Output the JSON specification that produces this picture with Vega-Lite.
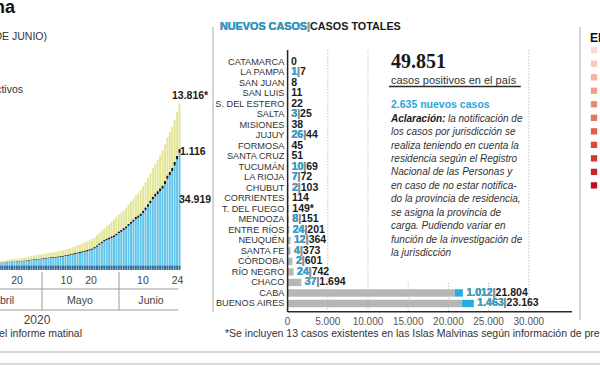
{
"$schema":"https://vega.github.io/schema/vega-lite/v6.json",
"width":600,"height":365,"padding":0,"autosize":{"type":"none"},"background":"white",
"config":{"view":{"stroke":null},"font":"Liberation Sans"},
"datasets":{
"evol":[
{"fecha":"2020-04-11","activos":1612,"fallecidos":90,"recuperados":440},
{"fecha":"2020-04-12","activos":1596,"fallecidos":97,"recuperados":515},
{"fecha":"2020-04-13","activos":1615,"fallecidos":102,"recuperados":560},
{"fecha":"2020-04-14","activos":1735,"fallecidos":111,"recuperados":597},
{"fecha":"2020-04-15","activos":1823,"fallecidos":115,"recuperados":633},
{"fecha":"2020-04-16","activos":1862,"fallecidos":122,"recuperados":685},
{"fecha":"2020-04-17","activos":1892,"fallecidos":129,"recuperados":737},
{"fecha":"2020-04-18","activos":1922,"fallecidos":132,"recuperados":785},
{"fecha":"2020-04-19","activos":2005,"fallecidos":136,"recuperados":800},
{"fecha":"2020-04-20","activos":2046,"fallecidos":145,"recuperados":840},
{"fecha":"2020-04-21","activos":2112,"fallecidos":152,"recuperados":880},
{"fecha":"2020-04-22","activos":2204,"fallecidos":165,"recuperados":919},
{"fecha":"2020-04-23","activos":2283,"fallecidos":176,"recuperados":976},
{"fecha":"2020-04-24","activos":2392,"fallecidos":185,"recuperados":1030},
{"fecha":"2020-04-25","activos":2481,"fallecidos":192,"recuperados":1107},
{"fecha":"2020-04-26","activos":2555,"fallecidos":197,"recuperados":1140},
{"fecha":"2020-04-27","activos":2604,"fallecidos":207,"recuperados":1192},
{"fecha":"2020-04-28","activos":2668,"fallecidos":214,"recuperados":1245},
{"fecha":"2020-04-29","activos":2811,"fallecidos":218,"recuperados":1256},
{"fecha":"2020-04-30","activos":2884,"fallecidos":225,"recuperados":1319},
{"fecha":"2020-05-01","activos":2946,"fallecidos":232,"recuperados":1354},
{"fecha":"2020-05-02","activos":3033,"fallecidos":237,"recuperados":1411},
{"fecha":"2020-05-03","activos":3095,"fallecidos":246,"recuperados":1442},
{"fecha":"2020-05-04","activos":3151,"fallecidos":260,"recuperados":1476},
{"fecha":"2020-05-05","activos":3232,"fallecidos":264,"recuperados":1524},
{"fecha":"2020-05-06","activos":3368,"fallecidos":273,"recuperados":1567},
{"fecha":"2020-05-07","activos":3460,"fallecidos":282,"recuperados":1629},
{"fecha":"2020-05-08","activos":3588,"fallecidos":293,"recuperados":1730},
{"fecha":"2020-05-09","activos":3719,"fallecidos":300,"recuperados":1757},
{"fecha":"2020-05-10","activos":3892,"fallecidos":305,"recuperados":1837},
{"fecha":"2020-05-11","activos":4061,"fallecidos":314,"recuperados":1903},
{"fecha":"2020-05-12","activos":4224,"fallecidos":319,"recuperados":2020},
{"fecha":"2020-05-13","activos":4400,"fallecidos":329,"recuperados":2150},
{"fecha":"2020-05-14","activos":4515,"fallecidos":353,"recuperados":2266},
{"fecha":"2020-05-15","activos":4738,"fallecidos":356,"recuperados":2385},
{"fecha":"2020-05-16","activos":4908,"fallecidos":363,"recuperados":2534},
{"fecha":"2020-05-17","activos":5070,"fallecidos":373,"recuperados":2625},
{"fecha":"2020-05-18","activos":5313,"fallecidos":382,"recuperados":2676},
{"fecha":"2020-05-19","activos":5544,"fallecidos":393,"recuperados":2872},
{"fecha":"2020-05-20","activos":5945,"fallecidos":403,"recuperados":2935},
{"fecha":"2020-05-21","activos":6452,"fallecidos":416,"recuperados":3063},
{"fecha":"2020-05-22","activos":7037,"fallecidos":433,"recuperados":3179},
{"fecha":"2020-05-23","activos":7533,"fallecidos":445,"recuperados":3375},
{"fecha":"2020-05-24","activos":8097,"fallecidos":452,"recuperados":3527},
{"fecha":"2020-05-25","activos":8429,"fallecidos":467,"recuperados":3732},
{"fecha":"2020-05-26","activos":8745,"fallecidos":484,"recuperados":3999},
{"fecha":"2020-05-27","activos":9084,"fallecidos":500,"recuperados":4349},
{"fecha":"2020-05-28","activos":9406,"fallecidos":508,"recuperados":4788},
{"fecha":"2020-05-29","activos":9907,"fallecidos":520,"recuperados":4992},
{"fecha":"2020-05-30","activos":10570,"fallecidos":528,"recuperados":5116},
{"fecha":"2020-05-31","activos":10976,"fallecidos":539,"recuperados":5323},
{"fecha":"2020-06-01","activos":11523,"fallecidos":556,"recuperados":5336},
{"fecha":"2020-06-02","activos":12045,"fallecidos":569,"recuperados":5705},
{"fecha":"2020-06-03","activos":12789,"fallecidos":583,"recuperados":5896},
{"fecha":"2020-06-04","activos":13409,"fallecidos":608,"recuperados":6180},
{"fecha":"2020-06-05","activos":14038,"fallecidos":632,"recuperados":6367},
{"fecha":"2020-06-06","activos":14809,"fallecidos":648,"recuperados":6563},
{"fecha":"2020-06-07","activos":15249,"fallecidos":664,"recuperados":6881},
{"fecha":"2020-06-08","activos":15801,"fallecidos":693,"recuperados":7126},
{"fecha":"2020-06-09","activos":16693,"fallecidos":717,"recuperados":7351},
{"fecha":"2020-06-10","activos":17615,"fallecidos":735,"recuperados":7637},
{"fecha":"2020-06-11","activos":18574,"fallecidos":765,"recuperados":8034},
{"fecha":"2020-06-12","activos":19644,"fallecidos":785,"recuperados":8335},
{"fecha":"2020-06-13","activos":20813,"fallecidos":815,"recuperados":8667},
{"fecha":"2020-06-14","activos":21705,"fallecidos":833,"recuperados":9039},
{"fecha":"2020-06-15","activos":22428,"fallecidos":854,"recuperados":9503},
{"fecha":"2020-06-16","activos":23250,"fallecidos":878,"recuperados":10031},
{"fecha":"2020-06-17","activos":24061,"fallecidos":913,"recuperados":10578},
{"fecha":"2020-06-18","activos":25402,"fallecidos":948,"recuperados":11160},
{"fecha":"2020-06-19","activos":27046,"fallecidos":979,"recuperados":11545},
{"fecha":"2020-06-20","activos":28152,"fallecidos":992,"recuperados":12060},
{"fecha":"2020-06-21","activos":29336,"fallecidos":1011,"recuperados":12438},
{"fecha":"2020-06-22","activos":31104,"fallecidos":1043,"recuperados":12784},
{"fecha":"2020-06-23","activos":32923,"fallecidos":1078,"recuperados":13215},
{"fecha":"2020-06-24","activos":34919,"fallecidos":1116,"recuperados":13816}
],
"prov":[
{"provincia":"CATAMARCA","nuevos":0,"totales":0,"anteriores":0,"txt":"0","txtn":""},
{"provincia":"LA PAMPA","nuevos":1,"totales":7,"anteriores":6,"txt":"1|7","txtn":"1"},
{"provincia":"SAN JUAN","nuevos":0,"totales":8,"anteriores":8,"txt":"8","txtn":""},
{"provincia":"SAN LUIS","nuevos":0,"totales":11,"anteriores":11,"txt":"11","txtn":""},
{"provincia":"S. DEL ESTERO","nuevos":0,"totales":22,"anteriores":22,"txt":"22","txtn":""},
{"provincia":"SALTA","nuevos":3,"totales":25,"anteriores":22,"txt":"3|25","txtn":"3"},
{"provincia":"MISIONES","nuevos":0,"totales":38,"anteriores":38,"txt":"38","txtn":""},
{"provincia":"JUJUY","nuevos":26,"totales":44,"anteriores":18,"txt":"26|44","txtn":"26"},
{"provincia":"FORMOSA","nuevos":0,"totales":45,"anteriores":45,"txt":"45","txtn":""},
{"provincia":"SANTA CRUZ","nuevos":0,"totales":51,"anteriores":51,"txt":"51","txtn":""},
{"provincia":"TUCUMÁN","nuevos":10,"totales":69,"anteriores":59,"txt":"10|69","txtn":"10"},
{"provincia":"LA RIOJA","nuevos":7,"totales":72,"anteriores":65,"txt":"7|72","txtn":"7"},
{"provincia":"CHUBUT","nuevos":2,"totales":103,"anteriores":101,"txt":"2|103","txtn":"2"},
{"provincia":"CORRIENTES","nuevos":0,"totales":114,"anteriores":114,"txt":"114","txtn":""},
{"provincia":"T. DEL FUEGO","nuevos":0,"totales":149,"anteriores":149,"txt":"149*","txtn":""},
{"provincia":"MENDOZA","nuevos":8,"totales":151,"anteriores":143,"txt":"8|151","txtn":"8"},
{"provincia":"ENTRE RÍOS","nuevos":24,"totales":201,"anteriores":177,"txt":"24|201","txtn":"24"},
{"provincia":"NEUQUÉN","nuevos":12,"totales":364,"anteriores":352,"txt":"12|364","txtn":"12"},
{"provincia":"SANTA FE","nuevos":4,"totales":373,"anteriores":369,"txt":"4|373","txtn":"4"},
{"provincia":"CÓRDOBA","nuevos":2,"totales":601,"anteriores":599,"txt":"2|601","txtn":"2"},
{"provincia":"RÍO NEGRO","nuevos":24,"totales":742,"anteriores":718,"txt":"24|742","txtn":"24"},
{"provincia":"CHACO","nuevos":37,"totales":1694,"anteriores":1657,"txt":"37|1.694","txtn":"37"},
{"provincia":"CABA","nuevos":1012,"totales":21804,"anteriores":20792,"txt":"1.012|21.804","txtn":"1.012"},
{"provincia":"BUENOS AIRES","nuevos":1463,"totales":23163,"anteriores":21700,"txt":"1.463|23.163","txtn":"1.463"}
],
"clases":[{"c":"1"},{"c":"2"},{"c":"3"},{"c":"4"},{"c":"5"},{"c":"6"},{"c":"7"},{"c":"8"},{"c":"9"},{"c":"10"},{"c":"11"}]
},
"resolve":{"scale":{"x":"independent","y":"independent","color":"independent"}},
"layer":[
 {"data":{"values":[{"v":5000},{"v":10000},{"v":15000},{"v":20000},{"v":25000},{"v":30000},{"v":35000},{"v":40000},{"v":45000},{"v":50000},{"v":55000},{"v":60000}]},
  "transform":[{"calculate":"'2020-04-09'","as":"a"},{"calculate":"'2020-06-24T08:00:00Z'","as":"b"}],
  "mark":{"type":"rule","color":"#bcbcbc","strokeDash":[3,2],"strokeWidth":0.8},
  "encoding":{"x":{"field":"a","type":"temporal","scale":{"type":"utc","domain":[1586745900000,1607741580000]},"axis":null},
   "x2":{"field":"b"},
   "y":{"field":"v","type":"quantitative","scale":{"domain":[-29394,81212],"nice":false,"zero":false},"axis":null}}},
 {"data":{"values":[{"a":"2020-04-09","b":"2020-04-27T07:00:00Z","lo":43000,"hi":58000}]},
  "mark":{"type":"rect","color":"white"},
  "encoding":{"x":{"field":"a","type":"temporal","scale":{"type":"utc","domain":[1586745900000,1607741580000]},"axis":null},
   "x2":{"field":"b"},
   "y":{"field":"lo","type":"quantitative","scale":{"domain":[-29394,81212],"nice":false,"zero":false},"axis":null},
   "y2":{"field":"hi"}}},
 {"data":{"name":"evol"},"transform":[{"fold":["activos","fallecidos","recuperados"],"as":["serie","valor"]}],
  "mark":{"type":"bar","width":2},
  "encoding":{"x":{"field":"fecha","type":"temporal","scale":{"type":"utc","domain":[1586745900000,1607741580000]},"axis":null},
   "y":{"field":"valor","type":"quantitative","stack":"zero","scale":{"domain":[-29394,81212],"nice":false,"zero":false},"axis":null},
   "color":{"field":"serie","type":"nominal","scale":{"domain":["activos","fallecidos","recuperados"],"range":["#63c5ea","#111111","#e3e698"]},"legend":null},
   "order":{"field":"serie","type":"nominal"}}},
 {"data":{"name":"evol"},
  "transform":[{"calculate":"700","as":"lo"},{"calculate":"-600","as":"hi"}],
  "mark":{"type":"bar","width":2,"color":"#3b6f96"},
  "encoding":{"x":{"field":"fecha","type":"temporal","scale":{"type":"utc","domain":[1586745900000,1607741580000]},"axis":null},
   "y":{"field":"lo","type":"quantitative","scale":{"domain":[-29394,81212],"nice":false,"zero":false},"axis":null},
   "y2":{"field":"hi"}}},
 {"data":{"values":[{"v":-6360,"a":"2020-04-09","b":"2020-06-24T08:00:00Z"},{"v":-12730,"a":"2020-04-09","b":"2020-06-24T08:00:00Z"}]},
  "mark":{"type":"rule","color":"#9a9a9a","strokeWidth":1},
  "encoding":{"x":{"field":"a","type":"temporal","scale":{"type":"utc","domain":[1586745900000,1607741580000]},"axis":null},
   "x2":{"field":"b"},
   "y":{"field":"v","type":"quantitative","scale":{"domain":[-29394,81212],"nice":false,"zero":false},"axis":null}}},
 {"data":{"values":[{"f":"2020-04-30T03:00:00Z","lo":-1200,"hi":-12730},{"f":"2020-05-31T07:30:00Z","lo":-1200,"hi":-12730}]},
  "mark":{"type":"rule","color":"#9a9a9a","strokeWidth":1},
  "encoding":{"x":{"field":"f","type":"temporal","scale":{"type":"utc","domain":[1586745900000,1607741580000]},"axis":null},
   "y":{"field":"lo","type":"quantitative","scale":{"domain":[-29394,81212],"nice":false,"zero":false},"axis":null},
   "y2":{"field":"hi"}}},
 {"data":{"values":[{"f":"2020-04-20","v":-3940,"t":"20"},{"f":"2020-05-10","v":-3940,"t":"10"},{"f":"2020-05-20","v":-3940,"t":"20"},{"f":"2020-06-10","v":-3940,"t":"10"},{"f":"2020-06-24","v":-3940,"t":"24"}]},
  "mark":{"type":"text","fontSize":10.5,"color":"#444444","baseline":"middle"},
  "encoding":{"x":{"field":"f","type":"temporal","scale":{"type":"utc","domain":[1586745900000,1607741580000]},"axis":null},
   "y":{"field":"v","type":"quantitative","scale":{"domain":[-29394,81212],"nice":false,"zero":false},"axis":null},
   "text":{"field":"t","type":"nominal"}}},
 {"data":{"values":[{"f":"2020-04-18T20:00:00Z","v":-10000,"t":"Abril"}]},
  "mark":{"type":"text","fontSize":10.6,"color":"#444444","baseline":"middle","align":"right"},
  "encoding":{"x":{"field":"f","type":"temporal","scale":{"type":"utc","domain":[1586745900000,1607741580000]},"axis":null},
   "y":{"field":"v","type":"quantitative","scale":{"domain":[-29394,81212],"nice":false,"zero":false},"axis":null},
   "text":{"field":"t","type":"nominal"}}},
 {"data":{"values":[{"f":"2020-05-15T12:20:00Z","v":-10000,"t":"Mayo"},{"f":"2020-06-13T06:35:00Z","v":-10000,"t":"Junio"}]},
  "mark":{"type":"text","fontSize":10.6,"color":"#444444","baseline":"middle","align":"center"},
  "encoding":{"x":{"field":"f","type":"temporal","scale":{"type":"utc","domain":[1586745900000,1607741580000]},"axis":null},
   "y":{"field":"v","type":"quantitative","scale":{"domain":[-29394,81212],"nice":false,"zero":false},"axis":null},
   "text":{"field":"t","type":"nominal"}}},
 {"data":{"values":[{"f":"2020-04-28T02:30:00Z","v":-15758,"t":"2020"}]},
  "mark":{"type":"text","fontSize":12,"color":"#444444","baseline":"middle","align":"center"},
  "encoding":{"x":{"field":"f","type":"temporal","scale":{"type":"utc","domain":[1586745900000,1607741580000]},"axis":null},
   "y":{"field":"v","type":"quantitative","scale":{"domain":[-29394,81212],"nice":false,"zero":false},"axis":null},
   "text":{"field":"t","type":"nominal"}}},
 {"data":{"values":[{"f":"2020-04-19T04:33:00Z","v":77180,"t":"Coronavirus en Argentina"}]},
  "mark":{"type":"text","fontSize":18,"fontWeight":"bold","color":"#111111","baseline":"alphabetic","align":"right"},
  "encoding":{"x":{"field":"f","type":"temporal","scale":{"type":"utc","domain":[1586745900000,1607741580000]},"axis":null},
   "y":{"field":"v","type":"quantitative","scale":{"domain":[-29394,81212],"nice":false,"zero":false},"axis":null},
   "text":{"field":"t","type":"nominal"}}},
 {"data":{"values":[
   {"f":"2020-05-02T03:40:00Z","v":70000,"t":"(AL 24 DE JUNIO)"},
   {"f":"2020-04-22T10:20:00Z","v":53800,"t":"Casos activos"},
   {"f":"2020-05-16T07:50:00Z","v":-20000,"t":"Fuente: Ministerio de Salud. Datos del informe matinal"}]},
  "mark":{"type":"text","fontSize":10.5,"color":"#333333","baseline":"middle","align":"right"},
  "encoding":{"x":{"field":"f","type":"temporal","scale":{"type":"utc","domain":[1586745900000,1607741580000]},"axis":null},
   "y":{"field":"v","type":"quantitative","scale":{"domain":[-29394,81212],"nice":false,"zero":false},"axis":null},
   "text":{"field":"t","type":"nominal"}}},
 {"data":{"values":[
   {"f":"2020-06-21T18:40:00Z","v":52121,"t":"13.816*"},
   {"f":"2020-06-25T00:20:00Z","v":35150,"t":"1.116"},
   {"f":"2020-06-24T14:45:00Z","v":20757,"t":"34.919"}]},
  "mark":{"type":"text","fontSize":10.5,"fontWeight":"bold","color":"#1a1a1a","baseline":"middle","align":"left"},
  "encoding":{"x":{"field":"f","type":"temporal","scale":{"type":"utc","domain":[1586745900000,1607741580000]},"axis":null},
   "y":{"field":"v","type":"quantitative","scale":{"domain":[-29394,81212],"nice":false,"zero":false},"axis":null},
   "text":{"field":"t","type":"nominal"}}},

 {"data":{"values":[{"v":5000,"lo":66060,"hi":-13333},{"v":10000,"lo":66060,"hi":-13333},{"v":30000,"lo":66060,"hi":-13333},{"v":15000,"lo":-4424,"hi":-13333},{"v":20000,"lo":-4424,"hi":-13333},{"v":25000,"lo":-4424,"hi":-13333}]},
  "mark":{"type":"rule","color":"#c4c4c4","strokeDash":[1.5,1.5],"strokeWidth":1},
  "encoding":{"x":{"field":"v","type":"quantitative","scale":{"domain":[-35771,38856],"nice":false,"zero":false},"axis":null},
   "y":{"field":"lo","type":"quantitative","scale":{"domain":[-29394,81212],"nice":false,"zero":false},"axis":null},
   "y2":{"field":"hi"}}},
 {"data":{"name":"prov"},
  "mark":{"type":"bar","color":"#b6b6b6"},
  "encoding":{"x":{"field":"anteriores","type":"quantitative","scale":{"domain":[-35771,38856],"nice":false,"zero":false},"axis":null},
   "y":{"field":"provincia","type":"nominal","scale":{"type":"band","domain":["t1","t2","t3","t4","t5","CATAMARCA","LA PAMPA","SAN JUAN","SAN LUIS","S. DEL ESTERO","SALTA","MISIONES","JUJUY","FORMOSA","SANTA CRUZ","TUCUMÁN","LA RIOJA","CHUBUT","CORRIENTES","T. DEL FUEGO","MENDOZA","ENTRE RÍOS","NEUQUÉN","SANTA FE","CÓRDOBA","RÍO NEGRO","CHACO","CABA","BUENOS AIRES","b1","b2","b3","b4","b5"],"paddingInner":0.3,"paddingOuter":0.498,"align":0.5},"axis":null}}},
 {"data":{"name":"prov"},
  "mark":{"type":"bar","color":"#29abe2"},
  "encoding":{"x":{"field":"anteriores","type":"quantitative","scale":{"domain":[-35771,38856],"nice":false,"zero":false},"axis":null},
   "x2":{"field":"totales"},
   "y":{"field":"provincia","type":"nominal","scale":{"type":"band","domain":["t1","t2","t3","t4","t5","CATAMARCA","LA PAMPA","SAN JUAN","SAN LUIS","S. DEL ESTERO","SALTA","MISIONES","JUJUY","FORMOSA","SANTA CRUZ","TUCUMÁN","LA RIOJA","CHUBUT","CORRIENTES","T. DEL FUEGO","MENDOZA","ENTRE RÍOS","NEUQUÉN","SANTA FE","CÓRDOBA","RÍO NEGRO","CHACO","CABA","BUENOS AIRES","b1","b2","b3","b4","b5"],"paddingInner":0.3,"paddingOuter":0.498,"align":0.5},"axis":null}}},
 {"data":{"values":[{"x":0,"lo":66060,"hi":-13333,"w":"a"},{"x":-9279,"lo":73030,"hi":-13333,"w":"b"},{"x":36368,"lo":73030,"hi":-15758,"w":"b"}]},
  "mark":{"type":"rule"},
  "encoding":{"x":{"field":"x","type":"quantitative","scale":{"domain":[-35771,38856],"nice":false,"zero":false},"axis":null},
   "y":{"field":"lo","type":"quantitative","scale":{"domain":[-29394,81212],"nice":false,"zero":false},"axis":null},
   "y2":{"field":"hi"},
   "color":{"field":"w","type":"nominal","scale":{"domain":["a","b"],"range":["#222222","#a8a8a8"]},"legend":null},
   "strokeWidth":{"field":"w","type":"nominal","scale":{"domain":["a","b"],"range":[1.5,1]},"legend":null}}},
 {"data":{"values":[{"a":0,"b":35373,"y":-13242,"w":"a"},{"a":-40000,"b":40000,"y":-25450,"w":"b"},{"a":-40000,"b":40000,"y":-29090,"w":"b"},{"a":12600,"b":29005,"y":55000,"w":"a"}]},
  "mark":{"type":"rule"},
  "encoding":{"x":{"field":"a","type":"quantitative","scale":{"domain":[-35771,38856],"nice":false,"zero":false},"axis":null},
   "x2":{"field":"b"},
   "y":{"field":"y","type":"quantitative","scale":{"domain":[-29394,81212],"nice":false,"zero":false},"axis":null},
   "color":{"field":"w","type":"nominal","scale":{"domain":["a","b"],"range":["#2a2a2a","#b4b4b4"]},"legend":null},
   "strokeWidth":{"field":"w","type":"nominal","scale":{"domain":["a","b"],"range":[1.5,1]},"legend":null}}},
 {"data":{"values":[{"v":0,"y":-16360,"t":"0"},{"v":5000,"y":-16360,"t":"5.000"},{"v":10000,"y":-16360,"t":"10.000"},{"v":15000,"y":-16360,"t":"15.000"},{"v":20000,"y":-16360,"t":"20.000"},{"v":25000,"y":-16360,"t":"25.000"},{"v":30000,"y":-16360,"t":"30.000"}]},
  "mark":{"type":"text","fontSize":10,"color":"#555555","baseline":"middle"},
  "encoding":{"x":{"field":"v","type":"quantitative","scale":{"domain":[-35771,38856],"nice":false,"zero":false},"axis":null},
   "y":{"field":"y","type":"quantitative","scale":{"domain":[-29394,81212],"nice":false,"zero":false},"axis":null},
   "text":{"field":"t","type":"nominal"}}},
 {"data":{"values":[{"x":-7786,"y":-19850,"t":"*Se incluyen 13 casos existentes en las Islas Malvinas según información de prensa"}]},
  "mark":{"type":"text","fontSize":10.5,"color":"#333333","baseline":"middle","align":"left"},
  "encoding":{"x":{"field":"x","type":"quantitative","scale":{"domain":[-35771,38856],"nice":false,"zero":false},"axis":null},
   "y":{"field":"y","type":"quantitative","scale":{"domain":[-29394,81212],"nice":false,"zero":false},"axis":null},
   "text":{"field":"t","type":"nominal"}}},
 {"data":{"name":"prov"},
  "transform":[{"calculate":"-398","as":"xl"}],
  "mark":{"type":"text","fontSize":9.2,"color":"#333333","baseline":"middle","align":"right"},
  "encoding":{"x":{"field":"xl","type":"quantitative","scale":{"domain":[-35771,38856],"nice":false,"zero":false},"axis":null},
   "y":{"field":"provincia","type":"nominal","scale":{"type":"band","domain":["t1","t2","t3","t4","t5","CATAMARCA","LA PAMPA","SAN JUAN","SAN LUIS","S. DEL ESTERO","SALTA","MISIONES","JUJUY","FORMOSA","SANTA CRUZ","TUCUMÁN","LA RIOJA","CHUBUT","CORRIENTES","T. DEL FUEGO","MENDOZA","ENTRE RÍOS","NEUQUÉN","SANTA FE","CÓRDOBA","RÍO NEGRO","CHACO","CABA","BUENOS AIRES","b1","b2","b3","b4","b5"],"paddingInner":0.3,"paddingOuter":0.498,"align":0.5},"axis":null},
   "text":{"field":"provincia","type":"nominal"}}},
 {"data":{"name":"prov"},
  "mark":{"type":"text","fontSize":10.5,"fontWeight":"bold","color":"#1a1a1a","baseline":"middle","align":"left","dx":3.5},
  "encoding":{"x":{"field":"totales","type":"quantitative","scale":{"domain":[-35771,38856],"nice":false,"zero":false},"axis":null},
   "y":{"field":"provincia","type":"nominal","scale":{"type":"band","domain":["t1","t2","t3","t4","t5","CATAMARCA","LA PAMPA","SAN JUAN","SAN LUIS","S. DEL ESTERO","SALTA","MISIONES","JUJUY","FORMOSA","SANTA CRUZ","TUCUMÁN","LA RIOJA","CHUBUT","CORRIENTES","T. DEL FUEGO","MENDOZA","ENTRE RÍOS","NEUQUÉN","SANTA FE","CÓRDOBA","RÍO NEGRO","CHACO","CABA","BUENOS AIRES","b1","b2","b3","b4","b5"],"paddingInner":0.3,"paddingOuter":0.498,"align":0.5},"axis":null},
   "text":{"field":"txt","type":"nominal"}}},
 {"data":{"name":"prov"},
  "transform":[{"filter":"datum.nuevos > 0"},{"calculate":"datum.txtn + '|'","as":"sep"}],
  "mark":{"type":"text","fontSize":10.5,"fontWeight":"bold","color":"#9a9a9a","baseline":"middle","align":"left","dx":3.5},
  "encoding":{"x":{"field":"totales","type":"quantitative","scale":{"domain":[-35771,38856],"nice":false,"zero":false},"axis":null},
   "y":{"field":"provincia","type":"nominal","scale":{"type":"band","domain":["t1","t2","t3","t4","t5","CATAMARCA","LA PAMPA","SAN JUAN","SAN LUIS","S. DEL ESTERO","SALTA","MISIONES","JUJUY","FORMOSA","SANTA CRUZ","TUCUMÁN","LA RIOJA","CHUBUT","CORRIENTES","T. DEL FUEGO","MENDOZA","ENTRE RÍOS","NEUQUÉN","SANTA FE","CÓRDOBA","RÍO NEGRO","CHACO","CABA","BUENOS AIRES","b1","b2","b3","b4","b5"],"paddingInner":0.3,"paddingOuter":0.498,"align":0.5},"axis":null},
   "text":{"field":"sep","type":"nominal"}}},
 {"data":{"name":"prov"},
  "transform":[{"filter":"datum.nuevos > 0"}],
  "mark":{"type":"text","fontSize":10.5,"fontWeight":"bold","color":"#2aa6d6","baseline":"middle","align":"left","dx":3.5},
  "encoding":{"x":{"field":"totales","type":"quantitative","scale":{"domain":[-35771,38856],"nice":false,"zero":false},"axis":null},
   "y":{"field":"provincia","type":"nominal","scale":{"type":"band","domain":["t1","t2","t3","t4","t5","CATAMARCA","LA PAMPA","SAN JUAN","SAN LUIS","S. DEL ESTERO","SALTA","MISIONES","JUJUY","FORMOSA","SANTA CRUZ","TUCUMÁN","LA RIOJA","CHUBUT","CORRIENTES","T. DEL FUEGO","MENDOZA","ENTRE RÍOS","NEUQUÉN","SANTA FE","CÓRDOBA","RÍO NEGRO","CHACO","CABA","BUENOS AIRES","b1","b2","b3","b4","b5"],"paddingInner":0.3,"paddingOuter":0.498,"align":0.5},"axis":null},
   "text":{"field":"txtn","type":"nominal"}}},
 {"data":{"values":[{"t":"NUEVOS CASOS|CASOS TOTALES","k":"a","x":-8408,"y":73020},{"t":"NUEVOS CASOS|","k":"b","x":-8408,"y":73020},{"t":"NUEVOS CASOS","k":"c","x":-8408,"y":73020}]},
  "mark":{"type":"text","fontSize":10.8,"fontWeight":"bold","baseline":"middle","align":"left"},
  "encoding":{"x":{"field":"x","type":"quantitative","scale":{"domain":[-35771,38856],"nice":false,"zero":false},"axis":null},
   "y":{"field":"y","type":"quantitative","scale":{"domain":[-29394,81212],"nice":false,"zero":false},"axis":null},
   "color":{"field":"k","type":"nominal","scale":{"domain":["a","b","c"],"range":["#1a1a1a","#9a9a9a","#1d9fd0"]},"legend":null},
   "order":{"field":"k","type":"nominal"},
   "text":{"field":"t","type":"nominal"}}},
 {"data":{"values":[{"x":12861,"y":60750,"t":"49.851"}]},
  "mark":{"type":"text","font":"Liberation Serif","fontSize":20,"fontWeight":"bold","color":"#1a1a1a","baseline":"alphabetic","align":"left"},
  "encoding":{"x":{"field":"x","type":"quantitative","scale":{"domain":[-35771,38856],"nice":false,"zero":false},"axis":null},
   "y":{"field":"y","type":"quantitative","scale":{"domain":[-29394,81212],"nice":false,"zero":false},"axis":null},
   "text":{"field":"t","type":"nominal"}}},
 {"data":{"values":[{"x":12861,"y":55900,"t":"casos positivos en el país"}]},
  "mark":{"type":"text","fontSize":11,"color":"#333333","baseline":"alphabetic","align":"left"},
  "encoding":{"x":{"field":"x","type":"quantitative","scale":{"domain":[-35771,38856],"nice":false,"zero":false},"axis":null},
   "y":{"field":"y","type":"quantitative","scale":{"domain":[-29394,81212],"nice":false,"zero":false},"axis":null},
   "text":{"field":"t","type":"nominal"}}},
 {"data":{"values":[{"x":12861,"y":48570,"t":"2.635 nuevos casos"}]},
  "mark":{"type":"text","fontSize":10.5,"fontWeight":"bold","color":"#2aa6d6","baseline":"alphabetic","align":"left"},
  "encoding":{"x":{"field":"x","type":"quantitative","scale":{"domain":[-35771,38856],"nice":false,"zero":false},"axis":null},
   "y":{"field":"y","type":"quantitative","scale":{"domain":[-29394,81212],"nice":false,"zero":false},"axis":null},
   "text":{"field":"t","type":"nominal"}}},
 {"data":{"values":[{"x":12861,"y":44360,"t":"Aclaración:"}]},
  "mark":{"type":"text","fontSize":10,"fontWeight":"bold","fontStyle":"italic","color":"#1a1a1a","baseline":"alphabetic","align":"left"},
  "encoding":{"x":{"field":"x","type":"quantitative","scale":{"domain":[-35771,38856],"nice":false,"zero":false},"axis":null},
   "y":{"field":"y","type":"quantitative","scale":{"domain":[-29394,81212],"nice":false,"zero":false},"axis":null},
   "text":{"field":"t","type":"nominal"}}},
 {"data":{"values":[
   {"x":19950,"y":44360,"t":"la notificación de"},
   {"x":12861,"y":40280,"t":"los casos por jurisdicción se"},
   {"x":12861,"y":36200,"t":"realiza teniendo en cuenta la"},
   {"x":12861,"y":32120,"t":"residencia según el Registro"},
   {"x":12861,"y":28040,"t":"Nacional de las Personas y"},
   {"x":12861,"y":23960,"t":"en caso de no estar notifica-"},
   {"x":12861,"y":19880,"t":"do la provincia de residencia,"},
   {"x":12861,"y":15800,"t":"se asigna la provincia de"},
   {"x":12861,"y":11720,"t":"carga. Pudiendo variar en"},
   {"x":12861,"y":7640,"t":"función de la investigación de"},
   {"x":12861,"y":3560,"t":"la jurisdicción"}]},
  "mark":{"type":"text","fontSize":10,"fontStyle":"italic","color":"#333333","baseline":"alphabetic","align":"left"},
  "encoding":{"x":{"field":"x","type":"quantitative","scale":{"domain":[-35771,38856],"nice":false,"zero":false},"axis":null},
   "y":{"field":"y","type":"quantitative","scale":{"domain":[-29394,81212],"nice":false,"zero":false},"axis":null},
   "text":{"field":"t","type":"nominal"}}},

 {"data":{"name":"clases"},
  "transform":[{"calculate":"38109","as":"xs"}],
  "mark":{"type":"square","size":40,"opacity":1},
  "encoding":{"x":{"field":"xs","type":"quantitative","scale":{"domain":[-35771,38856],"nice":false,"zero":false},"axis":null},
   "y":{"field":"c","type":"ordinal","scale":{"type":"point","domain":["p1","p2","p3","1","2","3","4","5","6","7","8","9","10","11","q1","q2","q3","q4","q5","q6","q7","q8","q9","q10","q11","q12","q13"],"padding":0.5,"align":0.714},"axis":null},
   "color":{"field":"c","type":"ordinal","scale":{"domain":["1","2","3","4","5","6","7","8","9","10","11"],"range":["#f8dcd5","#f5cbbf","#f1b6a6","#ed9f8b","#e98a73","#e4755d","#de6049","#d84b3a","#d2372e","#cb2228","#c20d22"]},"legend":null}}},
 {"data":{"values":[{"x":37612,"y":68480,"t":"El mapa"}]},
  "mark":{"type":"text","fontSize":12,"fontWeight":"bold","color":"#111111","baseline":"alphabetic","align":"left"},
  "encoding":{"x":{"field":"x","type":"quantitative","scale":{"domain":[-35771,38856],"nice":false,"zero":false},"axis":null},
   "y":{"field":"y","type":"quantitative","scale":{"domain":[-29394,81212],"nice":false,"zero":false},"axis":null},
   "text":{"field":"t","type":"nominal"}}}
]
}
